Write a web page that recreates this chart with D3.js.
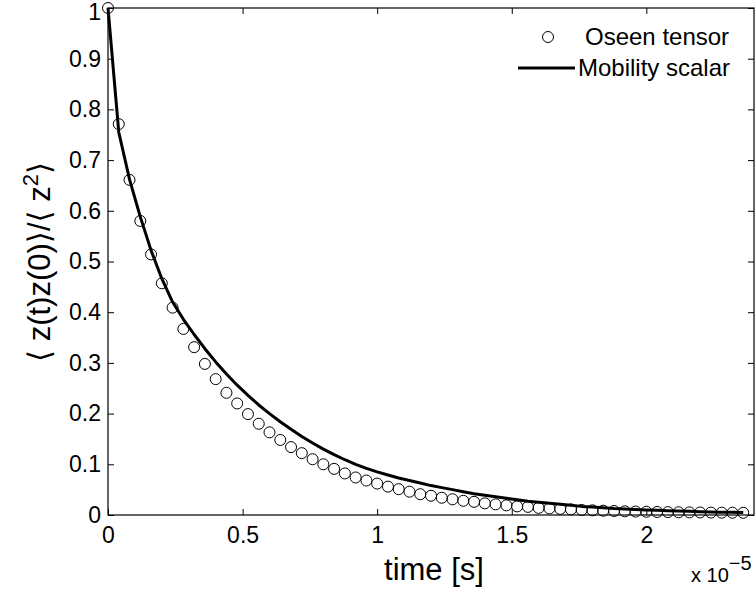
<!DOCTYPE html>
<html>
<head>
<meta charset="utf-8">
<script src="https://cdn.jsdelivr.net/npm/d3@7"></script>
<style>
  body { margin: 0; background: #fff; }
  text { font-family: "Liberation Sans", Arial, "DejaVu Sans", sans-serif; fill: #000; }
</style>
</head>
<body>
<div id="chart"></div>
<script>
// time in units of 1e-5 s
const times = [
  0, 0.04, 0.08, 0.12, 0.16, 0.2, 0.24, 0.28, 0.32, 0.36,
  0.4, 0.44, 0.48, 0.52, 0.56, 0.6, 0.64, 0.68, 0.72, 0.76,
  0.8, 0.84, 0.88, 0.92, 0.96, 1.0, 1.04, 1.08, 1.12, 1.16,
  1.2, 1.24, 1.28, 1.32, 1.36, 1.4, 1.44, 1.48, 1.52, 1.56,
  1.6, 1.64, 1.68, 1.72, 1.76, 1.8, 1.84, 1.88, 1.92, 1.96,
  2.0, 2.04, 2.08, 2.12, 2.16, 2.2, 2.24, 2.28, 2.32, 2.36
];

// Oseen tensor (circles)
const oseen = [
  1.000, 0.771, 0.661, 0.580, 0.514, 0.457, 0.409, 0.367, 0.331, 0.298,
  0.268, 0.241, 0.220, 0.199, 0.180, 0.163, 0.148, 0.134, 0.122, 0.110,
  0.100, 0.091, 0.082, 0.074, 0.068, 0.062, 0.056, 0.051, 0.046, 0.041,
  0.038, 0.034, 0.031, 0.028, 0.026, 0.023, 0.021, 0.019, 0.017, 0.016,
  0.014, 0.013, 0.012, 0.011, 0.010, 0.0092, 0.0085, 0.0079, 0.0073, 0.0068,
  0.0064, 0.0060, 0.0057, 0.0054, 0.0052, 0.0050, 0.0048, 0.0046, 0.0045, 0.0044
];

// Mobility scalar (solid line)
const mobility = [
  1.000, 0.755, 0.662, 0.588, 0.522, 0.466, 0.420, 0.386, 0.356, 0.328,
  0.302, 0.278, 0.256, 0.236, 0.217, 0.200, 0.184, 0.169, 0.155, 0.142,
  0.130, 0.119, 0.109, 0.100, 0.092, 0.085, 0.079, 0.073, 0.068, 0.063,
  0.058, 0.054, 0.050, 0.046, 0.042, 0.039, 0.036, 0.033, 0.030, 0.027,
  0.025, 0.023, 0.021, 0.019, 0.017, 0.016, 0.0145, 0.013, 0.012, 0.011,
  0.0099, 0.0092, 0.0085, 0.0078, 0.0072, 0.0066, 0.0061, 0.0056, 0.0052, 0.0048
];

const xTicks = [0, 0.5, 1, 1.5, 2];
const yTicks = [0, 0.1, 0.2, 0.3, 0.4, 0.5, 0.6, 0.7, 0.8, 0.9, 1];

const legendLabels = ["Oseen tensor", "Mobility scalar"];

// layout
const width = 756;
const height = 594;
const plot = { left: 108, right: 754, top: 8, bottom: 515 };
const tickLen = 6;

const svg = d3.select("#chart")
  .append("svg")
  .attr("width", width)
  .attr("height", height);

const xScale = d3.scaleLinear().domain([0, 2.4]).range([plot.left, plot.right]);
const yScale = d3.scaleLinear().domain([0, 1]).range([plot.bottom, plot.top]);

const data = times.map((t, i) => ({ t, oseen: oseen[i], mob: mobility[i] }));

// axes: bottom / left with labels, top / right ticks only (inward)
const xAxis = d3.axisBottom(xScale)
  .tickValues(xTicks)
  .tickSizeInner(-tickLen)
  .tickSizeOuter(0)
  .tickPadding(12)
  .tickFormat(d3.format("~g"));

const yAxis = d3.axisLeft(yScale)
  .tickValues(yTicks)
  .tickSizeInner(-tickLen)
  .tickSizeOuter(0)
  .tickPadding(7)
  .tickFormat(d3.format("~g"));

svg.append("g")
  .attr("transform", `translate(0,${plot.bottom})`)
  .call(xAxis);

const yAxisG = svg.append("g")
  .attr("transform", `translate(${plot.left},0)`)
  .call(yAxis);

svg.append("g")
  .attr("transform", `translate(0,${plot.top})`)
  .call(d3.axisTop(xScale).tickValues(xTicks).tickSizeInner(-tickLen).tickSizeOuter(0).tickFormat(""));

svg.append("g")
  .attr("transform", `translate(${plot.right},0)`)
  .call(d3.axisRight(yScale).tickValues(yTicks).tickSizeInner(-tickLen).tickSizeOuter(0).tickFormat(""));

svg.selectAll(".domain").remove();
svg.selectAll(".tick line").attr("stroke", "#000").attr("stroke-width", 1);
svg.selectAll(".tick text")
  .style("font-size", "23px")
  .style("font-family", "'Liberation Sans', Arial, sans-serif")
  .attr("fill", "#000");

// nudge the top "1" label so it is not clipped
yAxisG.selectAll(".tick text").filter(d => d === 1).attr("y", 4);

// frame
svg.append("rect")
  .attr("x", plot.left)
  .attr("y", plot.top)
  .attr("width", plot.right - plot.left)
  .attr("height", plot.bottom - plot.top)
  .attr("fill", "none")
  .attr("stroke", "#000")
  .attr("stroke-width", 1.2);

// mobility line
const line = d3.line()
  .x(d => xScale(d.t))
  .y(d => yScale(d.mob));

svg.append("path")
  .datum(data)
  .attr("d", line)
  .attr("fill", "none")
  .attr("stroke", "#000")
  .attr("stroke-width", 3)
  .attr("stroke-linejoin", "round");

// oseen circles
svg.selectAll(".pt")
  .data(data)
  .join("circle")
  .attr("class", "pt")
  .attr("cx", d => xScale(d.t))
  .attr("cy", d => yScale(d.oseen))
  .attr("r", 5.5)
  .attr("fill", "none")
  .attr("stroke", "#000")
  .attr("stroke-width", 1);

// x label
svg.append("text")
  .attr("x", 434)
  .attr("y", 580)
  .attr("text-anchor", "middle")
  .style("font-size", "31px")
  .text("time [s]");

// x 10^-5
const expo = svg.append("text")
  .attr("x", 691)
  .attr("y", 582)
  .style("font-size", "20px");
expo.append("tspan").text("x 10");
expo.append("tspan").attr("dy", -12).text("\u22125");

// y label
const ylab = svg.append("text")
  .attr("transform", `translate(50,262) rotate(-90)`)
  .attr("text-anchor", "middle")
  .style("font-size", "31px");
ylab.append("tspan").text("\u27E8 z(t)z(0)\u27E9/\u27E8 z");
ylab.append("tspan").attr("dy", -12).style("font-size", "22px").text("2");
ylab.append("tspan").attr("dy", 12).text("\u27E9");

// legend
const legend = svg.append("g");
legend.append("circle")
  .attr("cx", 548)
  .attr("cy", 37)
  .attr("r", 5.5)
  .attr("fill", "none")
  .attr("stroke", "#000");
legend.append("line")
  .attr("x1", 518).attr("x2", 575)
  .attr("y1", 68).attr("y2", 68)
  .attr("stroke", "#000")
  .attr("stroke-width", 3);
legend.selectAll(".lab")
  .data(legendLabels)
  .join("text")
  .attr("class", "lab")
  .attr("x", (d, i) => i === 0 ? 585 : 578)
  .attr("y", (d, i) => i === 0 ? 45 : 76)
  .style("font-size", "24px")
  .text(d => d);
</script>
</body>
</html>
